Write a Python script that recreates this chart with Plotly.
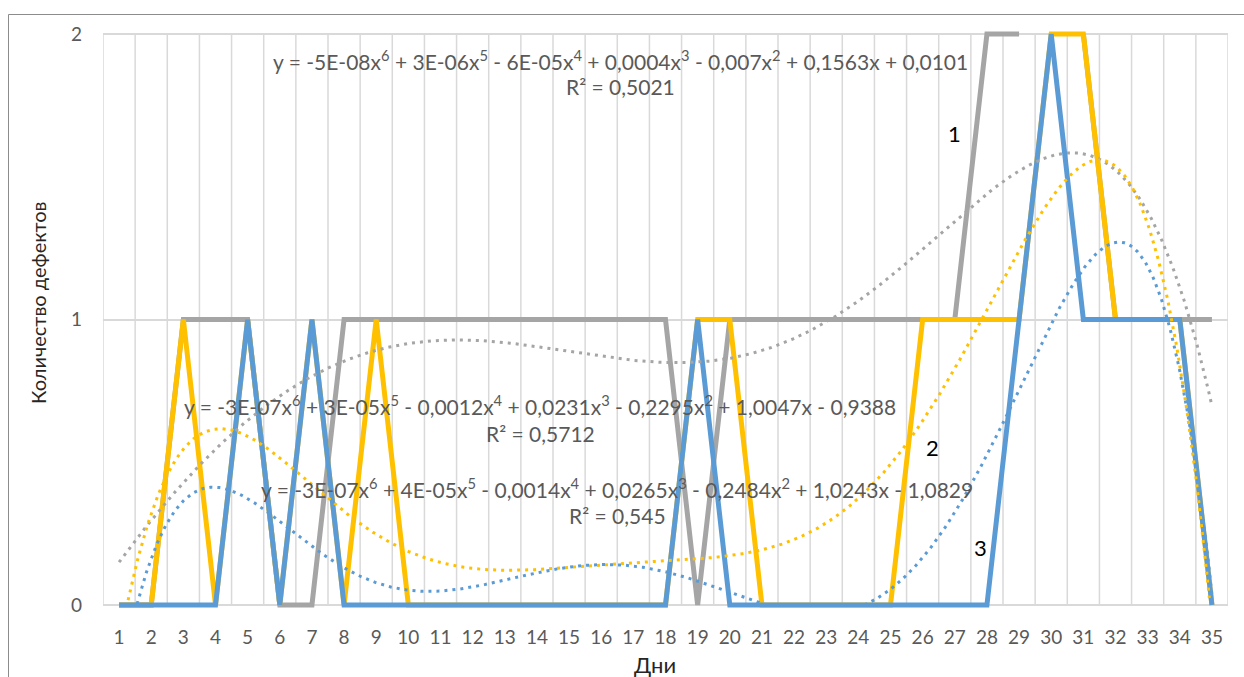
import numpy as np
import plotly.graph_objects as go

# Days on the category axis
days = list(range(1, 36))

# Defect counts per day for the three lines (None = no value that day)
defects_1 = [0, 0, 1, 1, 1, 0, 0, 1, 1, 1, 1, 1, 1, 1, 1, 1, 1, 1, 0, 1,
             1, 1, 1, 1, 1, 1, 1, 2, 2, None, 2, 1, 1, 1, 1]
defects_2 = [0, 0, 1, 0, 1, 0, 1, 0, 1, 0, 0, 0, 0, 0, 0, 0, 0, 0, 1, 1,
             0, 0, 0, 0, 0, 1, 1, 1, 1, 2, 2, 1, 1, 1, 0]
defects_3 = [0, 0, 0, 0, 1, 0, 1, 0, 0, 0, 0, 0, 0, 0, 0, 0, 0, 0, 1, 0,
             0, 0, 0, 0, 0, 0, 0, 0, 1, 2, 1, 1, 1, 1, 0]

series_names = ["1", "2", "3"]
series_colors = ["#A5A5A5", "#FFC000", "#5B9BD5"]

# Trendline equation labels (6th-order polynomial fits)
trend_equations = [
    "y = -5E-08x<sup>6</sup> + 3E-06x<sup>5</sup> - 6E-05x<sup>4</sup> + 0,0004x<sup>3</sup>"
    " - 0,007x<sup>2</sup> + 0,1563x + 0,0101",
    "y = -3E-07x<sup>6</sup> + 3E-05x<sup>5</sup> - 0,0012x<sup>4</sup> + 0,0231x<sup>3</sup>"
    " - 0,2295x<sup>2</sup> + 1,0047x - 0,9388",
    "y = -3E-07x<sup>6</sup> + 4E-05x<sup>5</sup> - 0,0014x<sup>4</sup> + 0,0265x<sup>3</sup>"
    " - 0,2484x<sup>2</sup> + 1,0243x - 1,0829",
]
trend_r2 = ["R² = 0,5021", "R² = 0,5712", "R² = 0,545"]

y_ticks = [0, 1, 2]

FONT = "Lato, 'Open Sans', sans-serif"
TEXT_GREY = "#595959"
GRID = "#D9D9D9"

W, H = 1244, 677
ML, MR, MT, MB = 103, 16, 31, 69
Y_PAD = 3 / 285.5  # keeps the full width of lines at 0 and 2 visible


def poly_fit(values, degree=6):
    x = np.array(days, dtype=float)
    y = np.array([np.nan if v is None else v for v in values], dtype=float)
    ok = ~np.isnan(y)
    return np.polyfit(x[ok], y[ok], degree)


fig = go.Figure()

# vertical gridlines between day categories
for b in np.arange(0.5, len(days) + 1, 1.0):
    fig.add_shape(type="line", xref="x", yref="y", x0=b, x1=b, y0=0, y1=2,
                  line=dict(color=GRID, width=1.5), layer="below")

all_series = [defects_1, defects_2, defects_3]
for vals, name, col in zip(all_series, series_names, series_colors):
    fig.add_trace(go.Scatter(x=days, y=vals, mode="lines", name=name,
                             line=dict(color=col, width=5),
                             connectgaps=False, showlegend=False))

# dotted polynomial trendlines, clipped to the value axis
xs = np.linspace(1, 35, 850)
for vals, col in zip(all_series, series_colors):
    coef = poly_fit(vals)
    ys = np.polyval(coef, xs)
    ys = np.where((ys < 0) | (ys > 2), np.nan, ys)
    fig.add_trace(go.Scatter(x=xs, y=ys, mode="lines", showlegend=False,
                             line=dict(color=col, width=3, dash="3px,5px"),
                             hoverinfo="skip"))

# equation labels: (centre x, equation y, R² y) in data units
label_pos = [(16.6, 1.91, 1.815), (14.1, 0.70, 0.602), (16.5, 0.41, 0.312)]
for eq, r2, (lx, ey, ry) in zip(trend_equations, trend_r2, label_pos):
    fig.add_annotation(x=lx, y=ey, xref="x", yref="y", text=eq, showarrow=False,
                       font=dict(family=FONT, size=21, color=TEXT_GREY))
    fig.add_annotation(x=lx, y=ry, xref="x", yref="y", text=r2, showarrow=False,
                       font=dict(family=FONT, size=21, color=TEXT_GREY))

# series numbers next to the curves
for name, (lx, ly) in zip(series_names, [(27.0, 1.65), (26.3, 0.553), (27.8, 0.20)]):
    fig.add_annotation(x=lx, y=ly, xref="x", yref="y", text=name, showarrow=False,
                       font=dict(family=FONT, size=22, color="#000000"))

plot_w = W - ML - MR
plot_h = H - MT - MB


def px_x(px):
    return (px - ML) / plot_w


def px_y(py):
    return (H - MB - py) / plot_h


# axis titles
fig.add_annotation(xref="paper", yref="paper", x=px_x(655), y=px_y(664),
                   xanchor="center", yanchor="middle",
                   text="Дни", showarrow=False,
                   font=dict(family=FONT, size=22, color="#262626"))
fig.add_annotation(xref="paper", yref="paper", x=px_x(38), y=px_y(303),
                   xanchor="center", yanchor="middle",
                   text="Количество дефектов", showarrow=False, textangle=-90,
                   font=dict(family=FONT, size=20, color="#262626"))

# chart area border
fig.add_shape(type="rect", xref="paper", yref="paper",
              x0=px_x(8.5), x1=px_x(1260), y0=px_y(700), y1=px_y(14.5),
              line=dict(color="#8C8C8C", width=1), layer="below")

fig.update_layout(
    width=W, height=H,
    margin=dict(l=ML, r=MR, t=MT, b=MB),
    paper_bgcolor="white", plot_bgcolor="white",
    font=dict(family=FONT, color=TEXT_GREY),
)
fig.update_xaxes(range=[0.5, 35.5], tickmode="array", tickvals=days,
                 ticktext=[str(d) for d in days], showgrid=False, zeroline=False,
                 showline=False, ticks="", ticklabelstandoff=16,
                 tickfont=dict(family=FONT, size=19, color=TEXT_GREY))
fig.update_yaxes(range=[-Y_PAD, 2 + Y_PAD], tickmode="array", tickvals=y_ticks,
                 showgrid=True, gridcolor=GRID, gridwidth=1.5, zeroline=False,
                 showline=False, ticks="", ticklabelstandoff=20,
                 tickfont=dict(family=FONT, size=19, color=TEXT_GREY))

fig.write_html("out.html")
